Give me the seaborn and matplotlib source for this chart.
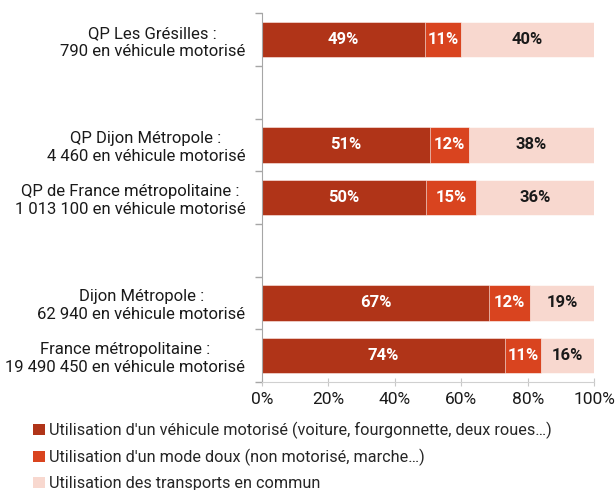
import pandas as pd
import matplotlib.pyplot as plt
import seaborn as sns
from matplotlib.patches import Patch
from matplotlib.ticker import PercentFormatter, FixedLocator

# --- Data ---
zones = [
    "QP Les Grésilles :\n790 en véhicule motorisé",
    "QP Dijon Métropole :\n4 460 en véhicule motorisé",
    "QP de France métropolitaine :\n1 013 100 en véhicule motorisé",
    "Dijon Métropole :\n62 940 en véhicule motorisé",
    "France métropolitaine :\n19 490 450 en véhicule motorisé",
]
# empty slots between the groups
order = [zones[0], " ", zones[1], zones[2], "  ", zones[3], zones[4]]

motorise = [49, 51, 50, 67, 74]
doux = [11, 12, 15, 12, 11]
transports = [40, 38, 36, 19, 16]

series_names = [
    "Utilisation d'un véhicule motorisé (voiture, fourgonnette, deux roues…)",
    "Utilisation d'un mode doux (non motorisé, marche…)",
    "Utilisation des transports en commun",
]
colors = ["#B03418", "#D9441F", "#F8D8CF"]
text_colors = ["white", "white", "#1a1a1a"]

# --- Config ---
sns.set_style("white")
plt.rcParams["font.family"] = ["Roboto", "DejaVu Sans"]
plt.rcParams["font.size"] = 12

df = pd.DataFrame({"zone": zones, "m": motorise, "d": doux, "t": transports})
# 100% stacked: shares of the row total
total = df["m"] + df["d"] + df["t"]
df["s1"] = df["m"] / total
df["s2"] = (df["m"] + df["d"]) / total
df["s3"] = (df["m"] + df["d"] + df["t"]) / total

fig = plt.figure(figsize=(6.15, 4.9), dpi=100)
ax = fig.add_axes([0.426, 0.2204, 0.540, 0.7526])

# draw the cumulative bars from the longest to the shortest
for col, c in zip(["s3", "s2", "s1"], colors[::-1]):
    sns.barplot(data=df, x=col, y="zone", order=order, color=c, orient="h",
                width=0.67, saturation=1, edgecolor="white", linewidth=0.4, ax=ax)

# segment labels
for _, row in df.iterrows():
    pos = order.index(row["zone"])
    lefts = [0, row["s1"], row["s2"]]
    rights = [row["s1"], row["s2"], row["s3"]]
    vals = [row["m"], row["d"], row["t"]]
    for l, r, v, tc in zip(lefts, rights, vals, text_colors):
        ax.text((l + r) / 2, pos, f"{v}%", ha="center", va="center",
                color=tc, fontweight="bold", fontsize=12)

ax.set_xlim(0, 1)
ax.set_ylim(6.5, -0.5)
ax.xaxis.set_major_formatter(PercentFormatter(1.0, decimals=0))
ax.set_xticks([0, 0.2, 0.4, 0.6, 0.8, 1.0])
ax.set_xlabel("")
ax.set_ylabel("")

# y tick labels without ticks, tick marks at the slot boundaries
ax.tick_params(axis="y", which="major", left=True, length=0, pad=12, labelsize=12,
               labelcolor="#1a1a1a")
for lab in ax.get_yticklabels():
    lab.set_multialignment("center")
    lab.set_linespacing(1.25)
ax.yaxis.set_minor_locator(FixedLocator([i - 0.5 for i in range(8)]))
ax.tick_params(axis="y", which="minor", left=True, length=5, color="#A6A6A6", width=1)
ax.tick_params(axis="x", which="major", bottom=True, length=6, direction="inout",
               color="#C8C8C8", labelsize=12.5, labelcolor="#1a1a1a", pad=4)

for s in ["top", "right"]:
    ax.spines[s].set_visible(False)
ax.spines["left"].set_color("#A6A6A6")
ax.spines["bottom"].set_color("#D0D0D0")

handles = [Patch(facecolor=c, edgecolor="none") for c in colors]
fig.legend(handles, series_names, loc="upper left", bbox_to_anchor=(0.054, 0.139),
           frameon=False, fontsize=11.7, handlelength=0.7, handleheight=0.7,
           handletextpad=0.25, labelspacing=0.6, borderpad=0, borderaxespad=0)

fig.savefig("out.png", dpi=100)
